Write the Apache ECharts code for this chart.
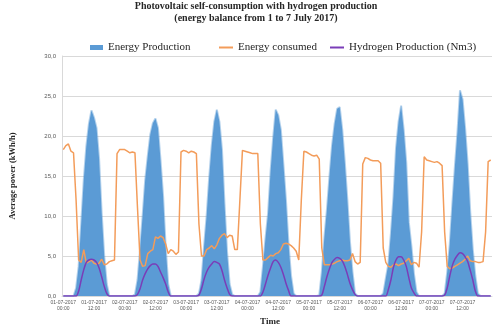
<!DOCTYPE html>
<html>
<head>
<meta charset="utf-8">
<script src="https://cdn.jsdelivr.net/npm/echarts@6/dist/echarts.min.js"></script>
<style>
  html, body { margin: 0; padding: 0; background: #ffffff; }
  #chart { width: 498px; height: 329px; }
</style>
</head>
<body>
<div id="chart"></div>
<script>
// Hourly energy balance, 1 to 7 July 2017
const days = ['01-07-2017', '02-07-2017', '03-07-2017', '04-07-2017', '05-07-2017', '06-07-2017', '07-07-2017'];

// Energy Production (kWh/h), one line per day, 00:00 .. 23:00
const energyProduction = [
  0, 0, 0, 0, 0, 1.0, 3.7, 9.0, 14.5, 18.7, 21.5, 23.2, 22.3, 21.0, 17.1, 10.4, 5.0, 1.5, 0, 0, 0, 0, 0, 0,
  0, 0, 0, 0, 0.2, 2.0, 5.8, 10.0, 14.5, 17.5, 20.2, 21.6, 22.2, 21.0, 17.0, 12.5, 6.2, 1.5, 0, 0, 0, 0, 0, 0,
  0, 0, 0, 0, 0, 0.3, 2.0, 6.2, 10.0, 14.8, 18.8, 21.8, 23.3, 21.8, 18.3, 11.5, 5.5, 1.5, 0.2, 0, 0, 0, 0, 0,
  0, 0, 0, 0, 0, 0.5, 3.7, 7.2, 10.3, 15.6, 19.8, 23.3, 22.6, 20.8, 16.5, 12.0, 6.5, 2.5, 0.3, 0, 0, 0, 0, 0,
  0, 0, 0, 0, 0.1, 3.0, 7.3, 10.8, 15.0, 18.8, 21.5, 23.4, 23.6, 20.8, 16.7, 12.0, 6.8, 3.0, 0.3, 0, 0, 0, 0, 0,
  0, 0, 0, 0, 0, 0.3, 2.2, 4.0, 7.8, 12.4, 18.5, 21.8, 23.8, 20.8, 16.7, 9.2, 6.3, 2.8, 0.5, 0, 0, 0, 0, 0,
  0, 0, 0, 0, 0, 0.3, 3.0, 6.5, 11.5, 16.2, 20.5, 25.7, 24.6, 21.0, 16.5, 10.5, 5.8, 2.5, 0.3, 0, 0, 0, 0, 0
];

// Energy consumed (kWh/h)
const energyConsumed = [
  18.3, 18.8, 19.0, 18.1, 17.9, 12.0, 4.5, 4.2, 5.8, 4.1, 4.3, 4.5, 4.1, 4.0, 4.1, 4.6, 3.9, 4.0, 4.3, 4.4, 4.5, 17.8, 18.3, 18.3,
  18.3, 18.1, 17.9, 18.0, 17.9, 11.0, 4.5, 3.7, 3.8, 5.3, 5.6, 5.8, 7.4, 7.2, 7.5, 7.3, 6.5, 5.3, 5.8, 5.6, 5.2, 5.5, 18.0, 18.2,
  18.1, 17.9, 18.1, 18.0, 17.8, 9.0, 5.0, 5.0, 5.8, 6.0, 6.3, 5.9, 6.4, 7.2, 7.6, 7.8, 7.3, 7.6, 7.5, 5.8, 5.8, 12.0, 18.2, 18.1,
  18.0, 17.9, 17.8, 17.8, 17.8, 9.0, 4.5, 4.5, 4.8, 5.1, 5.0, 5.3, 5.4, 5.8, 6.5, 6.6, 6.5, 6.3, 6.0, 5.6, 4.5, 12.0, 18.1, 18.0,
  17.8, 17.6, 17.5, 17.6, 17.1, 6.0, 3.9, 3.9, 3.9, 4.0, 4.1, 4.3, 4.4, 4.5, 4.4, 4.4, 4.5, 5.3, 4.3, 4.0, 4.2, 16.5, 17.3, 17.2,
  17.0, 16.9, 16.9, 16.9, 16.6, 6.0, 4.2, 3.7, 3.6, 3.9, 4.0, 3.8, 4.0, 4.1, 4.4, 4.7, 3.9, 4.2, 4.1, 3.6, 8.0, 17.4, 17.0, 16.9,
  16.8, 16.7, 16.8, 16.6, 16.3, 8.0, 3.7, 3.4, 3.5, 3.7, 3.9, 4.1, 4.3, 4.6, 5.0, 4.4, 4.3, 4.3, 4.2, 4.2, 4.3, 8.0, 16.8, 17.0
];

// Hydrogen Production (Nm3)
const hydrogenProduction = [
  0, 0, 0, 0, 0, 0, 0.6, 2.0, 3.3, 4.2, 4.5, 4.6, 4.5, 4.2, 3.5, 2.4, 1.2, 0.3, 0, 0, 0, 0, 0, 0,
  0, 0, 0, 0, 0, 0.2, 0.9, 2.0, 2.8, 3.4, 3.8, 4.0, 4.0, 3.7, 3.0, 2.3, 1.5, 0.5, 0, 0, 0, 0, 0, 0,
  0, 0, 0, 0, 0, 0.1, 0.9, 2.1, 3.0, 3.6, 4.0, 4.3, 4.2, 4.0, 3.2, 2.0, 1.0, 0.2, 0, 0, 0, 0, 0, 0,
  0, 0, 0, 0, 0, 0, 0.5, 1.5, 2.6, 3.5, 4.3, 4.5, 4.2, 3.6, 2.7, 1.6, 0.7, 0, 0, 0, 0, 0, 0, 0,
  0, 0, 0, 0, 0, 0.1, 1.2, 2.4, 3.4, 4.2, 4.6, 4.8, 4.7, 4.4, 3.7, 2.7, 1.6, 0.8, 0.2, 0, 0, 0, 0, 0,
  0, 0, 0, 0, 0, 0, 0, 0.8, 2.0, 3.6, 4.5, 4.9, 4.9, 4.5, 3.7, 2.3, 1.0, 0.4, 0, 0, 0, 0, 0, 0,
  0, 0, 0, 0, 0, 0.1, 1.0, 2.5, 3.8, 4.6, 5.1, 5.4, 5.3, 4.9, 4.3, 3.2, 2.0, 0.6, 0, 0, 0, 0, 0, 0
];

// Category labels: one per hour, "dd-mm-yyyy\nhh:mm"
const timeLabels = [];
days.forEach(function (d) {
  for (let h = 0; h < 24; h++) {
    timeLabels.push(d + '\n' + String(h).padStart(2, '0') + ':00');
  }
});

const serif = 'Liberation Serif';
const sans = 'Liberation Sans';
const colors = { prod: '#5b9bd5', cons: '#f39c5a', h2: '#7a3db8' };

const chart = echarts.init(document.getElementById('chart'), null, { renderer: 'canvas' });

const legendText = { fontFamily: serif, fontSize: 11, color: '#262626' };

chart.setOption({
  animation: false,
  backgroundColor: '#ffffff',
  grid: { left: 62, right: 6, top: 56, bottom: 33, containLabel: false },
  legend: [
    { left: 85, top: 37, itemWidth: 13, itemHeight: 5, itemGap: 0, textStyle: legendText,
      data: [{ name: 'Energy Production', icon: 'rect', itemStyle: { color: colors.prod } }] },
    { left: 214, top: 37, itemWidth: 14, itemHeight: 2, itemGap: 0, textStyle: legendText,
      data: [{ name: 'Energy consumed', icon: 'rect',
        itemStyle: { color: colors.cons, borderWidth: 0 } }] },
    { left: 325, top: 37, itemWidth: 14, itemHeight: 2, itemGap: 0, textStyle: legendText,
      data: [{ name: 'Hydrogen Production (Nm3)', icon: 'rect',
        itemStyle: { color: colors.h2, borderWidth: 0 } }] }
  ],
  xAxis: {
    type: 'category',
    data: timeLabels,
    boundaryGap: true,
    axisLine: { show: true, lineStyle: { color: '#d9d9d9' } },
    axisTick: { show: false },
    axisLabel: {
      interval: 11,
      fontFamily: sans,
      fontSize: 5,
      lineHeight: 6,
      color: '#595959',
      margin: 4
    },
    splitLine: { show: false }
  },
  yAxis: {
    type: 'value',
    min: 0,
    max: 30,
    interval: 5,
    axisLine: { show: true, lineStyle: { color: '#d9d9d9' } },
    axisTick: { show: false },
    axisLabel: {
      fontFamily: sans,
      fontSize: 6,
      color: '#595959',
      margin: 6,
      formatter: function (v) { return v.toFixed(1).replace('.', ','); }
    },
    splitLine: { show: true, lineStyle: { color: '#d9d9d9', width: 1 } }
  },
  series: [
    {
      name: 'Energy Production',
      type: 'line',
      data: energyProduction,
      symbol: 'none',
      itemStyle: { color: colors.prod },
      lineStyle: { color: 'rgba(91,155,213,0.45)', width: 2 },
      areaStyle: { color: colors.prod, opacity: 1 },
      z: 1
    },
    {
      name: 'Energy consumed',
      type: 'line',
      data: energyConsumed,
      symbol: 'none',
      itemStyle: { color: colors.cons },
      lineStyle: { color: colors.cons, width: 1.5 },
      z: 2
    },
    {
      name: 'Hydrogen Production (Nm3)',
      type: 'line',
      data: hydrogenProduction,
      symbol: 'none',
      smooth: 0.3,
      itemStyle: { color: colors.h2 },
      lineStyle: { color: colors.h2, width: 1.5 },
      z: 3
    }
  ],
  graphic: [
    { type: 'text', x: 256, y: 6, z: 10,
      style: { text: 'Photovoltaic self-consumption with hydrogen production',
        align: 'center', verticalAlign: 'middle',
        font: 'bold 10px "Liberation Serif"', fill: '#262626' } },
    { type: 'text', x: 256, y: 18, z: 10,
      style: { text: '(energy balance from 1 to 7 July 2017)',
        align: 'center', verticalAlign: 'middle',
        font: 'bold 10px "Liberation Serif"', fill: '#262626' } },
    { type: 'text', x: 13, y: 176, rotation: Math.PI / 2, z: 10,
      style: { text: 'Average power (kWh/h)', align: 'center', verticalAlign: 'middle',
        font: 'bold 8.5px "Liberation Serif"', fill: '#262626' } },
    { type: 'text', x: 270, y: 322, z: 10,
      style: { text: 'Time', align: 'center', verticalAlign: 'middle',
        font: 'bold 9px "Liberation Serif"', fill: '#262626' } }
  ]
});
</script>
</body>
</html>
